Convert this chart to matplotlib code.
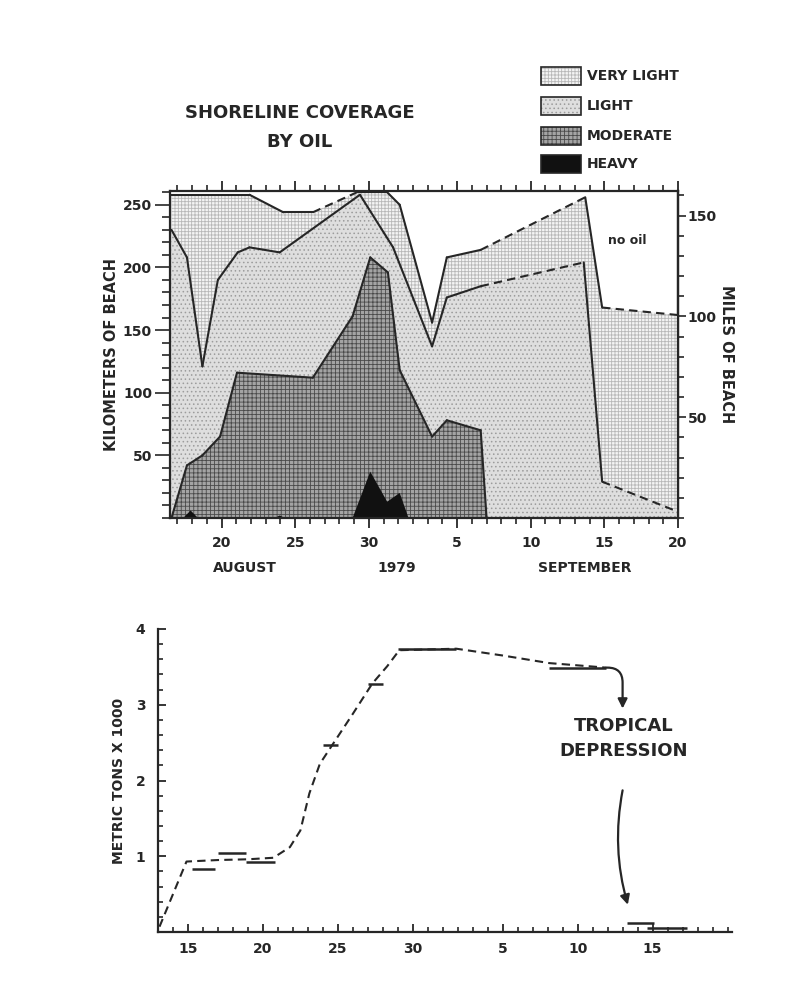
import numpy as np
import matplotlib
matplotlib.use("Agg")
import matplotlib.pyplot as plt
from matplotlib.patches import Rectangle
from matplotlib.ticker import MultipleLocator, FixedLocator

plt.rcParams['font.family'] = ['DejaVu Sans']
plt.rcParams['font.weight'] = 'bold'
plt.rcParams['axes.labelweight'] = 'bold'
plt.rcParams['hatch.linewidth'] = 0.6

INK = '#262626'

# ---- top chart: shoreline coverage (km of beach), days counted from Aug 1 ----
total_x = [16.6, 21.9, 24.2, 26.2, 29.2, 31.25, 32.1, 34.3, 35.3, 37.6, 44.7, 45.85, 51]
total_y = [258, 258, 244, 244, 260, 260, 250, 156, 208, 214, 256, 168, 162]

light_x = [16.6, 17.65, 18.7, 19.75, 21.1, 21.9, 23.95, 29.4, 31.65, 34.3, 35.3, 37.6, 44.6, 45.85, 51]
light_y = [230, 208, 121, 190, 212, 216, 212, 258, 216, 137, 176, 185, 204, 29, 5]

moderate_x = [16.6, 17.65, 18.7, 19.9, 21.05, 26.2, 28.9, 30.1, 31.3, 32.1, 34.3, 35.3, 37.6, 38.0]
moderate_y = [0, 42, 50, 65, 116, 112, 161, 208, 196, 118, 65, 78, 70, 0]

heavy_x = [16.6, 17.4, 17.9, 18.4, 23.6, 23.95, 24.3, 28.9, 30.1, 31.25, 32.1, 32.7]
heavy_y = [0, 0, 6, 0, 0, 2, 0, 0, 37, 13, 20, 0]

# segments (index k -> k+1) drawn dashed
total_dashed = {3, 9, 11}
light_dashed = {11, 13}

legend_labels = ['VERY LIGHT', 'LIGHT', 'MODERATE', 'HEAVY']

top_ticks = [20, 25, 30, 36, 41, 46, 51]
top_ticklabels = ['20', '25', '30', '5', '10', '15', '20']

# ---- bottom chart: metric tons x 1000 ----
cum_x = [13.1, 14.9, 17.0, 19.0, 20.7, 21.8, 22.5, 23.1, 23.8, 24.7, 26.0, 27.3, 28.3, 29.1, 32.9, 36.0, 39.1, 42.9]
cum_y = [0.07, 0.93, 0.95, 0.96, 0.98, 1.12, 1.34, 1.83, 2.22, 2.49, 2.88, 3.28, 3.51, 3.72, 3.74, 3.65, 3.55, 3.49]

bar_start = [15.3, 17.0, 18.9, 24.0, 27.0, 29.0, 39.1, 44.3, 45.6]
bar_end = [16.8, 18.9, 20.8, 25.0, 28.0, 32.9, 42.9, 46.1, 48.3]
bar_val = [0.83, 1.04, 0.93, 2.47, 3.28, 3.74, 3.48, 0.12, 0.05]

bot_ticks = [15, 20, 25, 30, 36, 41, 46]
bot_ticklabels = ['15', '20', '25', '30', '5', '10', '15']


def poly(ax, xs, ys, **kw):
    xs = list(xs) + [xs[-1], xs[0]]
    ys = list(ys) + [0, 0]
    ax.fill(xs, ys, **kw)


def boundary(ax, xs, ys, dashed):
    for k in range(len(xs) - 1):
        ax.plot(xs[k:k + 2], ys[k:k + 2], color=INK, lw=1.5,
                ls=(0, (4, 2.5)) if k in dashed else '-', solid_capstyle='round')


fig = plt.figure(figsize=(7.91, 9.91), dpi=100)
W, H = 791, 991

# ================= top chart =================
ax = fig.add_axes([170 / W, 1 - 518 / H, 508 / W, 327 / H])

styles = [
    dict(facecolor='#f4f4f4', edgecolor='#b8b8b8', hatch='+++++', lw=0),
    dict(facecolor='#dedede', edgecolor='#9c9c9c', hatch='....', lw=0),
    dict(facecolor='#a4a4a4', edgecolor='#4a4a4a', hatch='++++', lw=0),
    dict(facecolor='#111111', edgecolor='#111111', lw=0),
]

poly(ax, total_x, total_y, **styles[0])
poly(ax, light_x, light_y, **styles[1])
poly(ax, moderate_x, moderate_y, **styles[2])
poly(ax, heavy_x, heavy_y, **styles[3])

boundary(ax, total_x, total_y, total_dashed)
boundary(ax, light_x, light_y, light_dashed)
boundary(ax, moderate_x, moderate_y, set())

ax.set_xlim(16.5, 51)
ax.set_ylim(0, 261)
for s in ax.spines.values():
    s.set_linewidth(1.6)
    s.set_color(INK)

ax.xaxis.set_major_locator(FixedLocator(top_ticks))
ax.set_xticklabels(top_ticklabels)
ax.xaxis.set_minor_locator(MultipleLocator(1))
ax.yaxis.set_major_locator(FixedLocator([50, 100, 150, 200, 250]))
ax.yaxis.set_minor_locator(MultipleLocator(10))
ax.tick_params(axis='x', which='both', direction='out', top=True, colors=INK, labelsize=10)
ax.tick_params(axis='x', which='major', length=7, width=1.3, pad=6)
ax.tick_params(axis='x', which='minor', length=4, width=1.2)
ax.tick_params(axis='y', which='major', length=11, width=1.2, colors=INK, labelsize=10, pad=2)
ax.tick_params(axis='y', which='minor', length=6, width=1.2, colors=INK)
ax.set_ylabel('KILOMETERS OF BEACH', fontsize=10.5, color=INK, labelpad=3)

km2mi = lambda v: np.asarray(v) / 1.609
mi2km = lambda v: np.asarray(v) * 1.609
axr = ax.secondary_yaxis('right', functions=(km2mi, mi2km))
axr.set_yticks([50, 100, 150])
axr.yaxis.set_minor_locator(MultipleLocator(10))
axr.tick_params(which='major', length=6, width=1.2, colors=INK, labelsize=10, pad=1)
axr.tick_params(which='minor', length=4, width=1.2, colors=INK)
axr.spines['right'].set_linewidth(1.6)
axr.set_ylabel('MILES OF BEACH', rotation=270, fontsize=10.5, color=INK, labelpad=12)

ax.text(0.90, 0.85, 'no oil', transform=ax.transAxes, fontsize=9, color=INK,
        ha='center', va='center')

fig.text(300 / W, 1 - 113 / H, 'SHORELINE COVERAGE', fontsize=13, color=INK,
         ha='center', va='center')
fig.text(300 / W, 1 - 142 / H, 'BY OIL', fontsize=13, color=INK, ha='center', va='center')

fig.text(245 / W, 1 - 568 / H, 'AUGUST', fontsize=10, color=INK, ha='center', va='center')
fig.text(397 / W, 1 - 568 / H, '1979', fontsize=10, color=INK, ha='center', va='center')
fig.text(585 / W, 1 - 568 / H, 'SEPTEMBER', fontsize=10, color=INK, ha='center', va='center')

# legend
box_tops = [67, 97, 127, 155]
for lab, top, st in zip(legend_labels, box_tops, styles):
    fig.add_artist(Rectangle((541 / W, 1 - (top + 18) / H), 40 / W, 18 / H,
                             transform=fig.transFigure, **st))
    fig.add_artist(Rectangle((541 / W, 1 - (top + 18) / H), 40 / W, 18 / H,
                             transform=fig.transFigure, fill=False, edgecolor=INK, lw=1.2))
    fig.text(587 / W, 1 - (top + 9) / H, lab, fontsize=10, color=INK, ha='left', va='center')

# ================= bottom chart =================
bx = fig.add_axes([158 / W, 1 - 932 / H, 574 / W, 303 / H])
bx.plot(cum_x, cum_y, color=INK, lw=1.5, ls=(0, (4, 2.5)))
bx.hlines(bar_val, bar_start, bar_end, color=INK, lw=1.8)

bx.annotate('', xy=(44.0, 2.95), xytext=(42.9, 3.49),
            arrowprops=dict(arrowstyle='-|>', color=INK, lw=1.6, mutation_scale=14,
                            connectionstyle='angle,angleA=0,angleB=90,rad=15',
                            shrinkA=0, shrinkB=0))
bx.annotate('', xy=(44.35, 0.36), xytext=(44.0, 1.87),
            arrowprops=dict(arrowstyle='-|>', color=INK, lw=1.6, mutation_scale=14,
                            connectionstyle='arc3,rad=0.12', shrinkA=0, shrinkB=0))
bx.text(44.1, 2.72, 'TROPICAL', fontsize=13, color=INK, ha='center', va='center')
bx.text(44.1, 2.39, 'DEPRESSION', fontsize=13, color=INK, ha='center', va='center')

bx.set_xlim(13, 51.3)
bx.set_ylim(0, 4)
bx.spines['top'].set_visible(False)
bx.spines['right'].set_visible(False)
for s in ('left', 'bottom'):
    bx.spines[s].set_linewidth(1.6)
    bx.spines[s].set_color(INK)
bx.xaxis.set_major_locator(FixedLocator(bot_ticks))
bx.set_xticklabels(bot_ticklabels)
bx.xaxis.set_minor_locator(MultipleLocator(1))
bx.yaxis.set_major_locator(FixedLocator([1, 2, 3, 4]))
bx.yaxis.set_minor_locator(MultipleLocator(0.2))
bx.tick_params(which='both', direction='in', colors=INK, labelsize=10)
bx.tick_params(which='major', length=6, width=1.3, pad=7)
bx.tick_params(which='minor', length=3.5, width=1.2)
bx.tick_params(axis='y', which='major', pad=9)
bx.set_ylabel('METRIC TONS X 1000', fontsize=10, color=INK, labelpad=7)

fig.savefig('out.png', dpi=100)
